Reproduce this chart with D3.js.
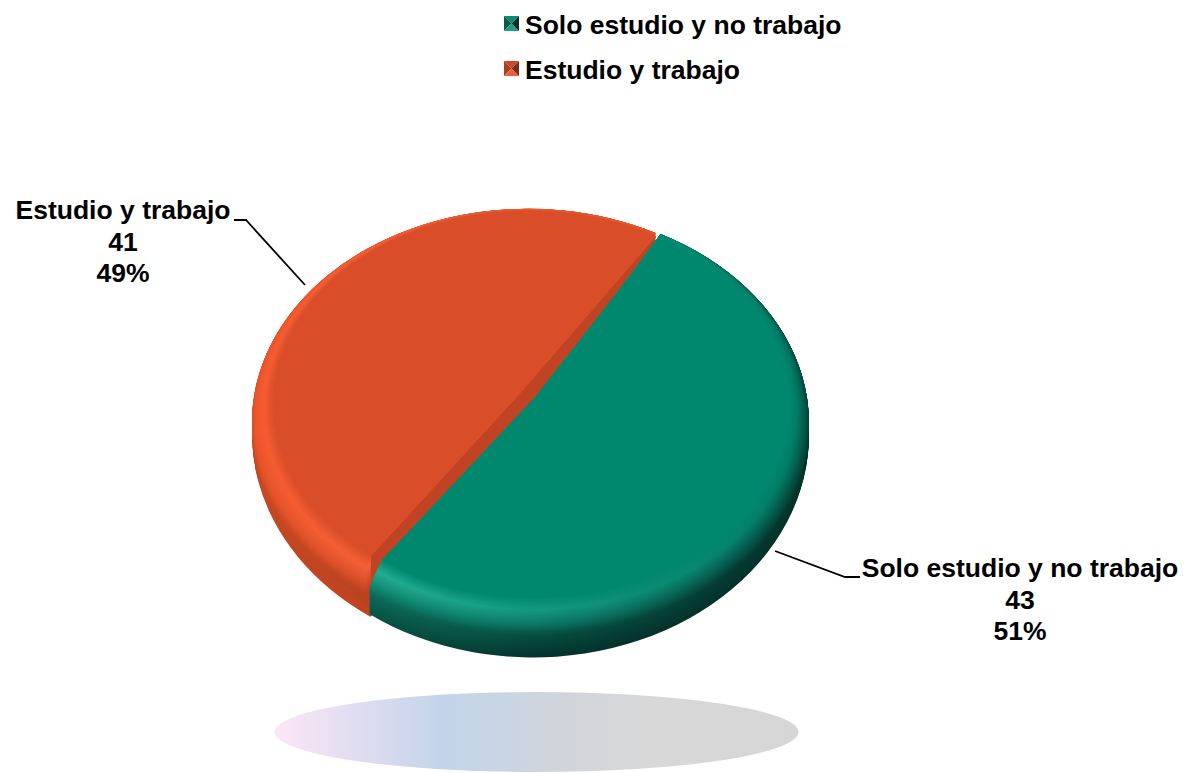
<!DOCTYPE html>
<html>
<head>
<meta charset="utf-8">
<title>Estudio y trabajo</title>
<script src="https://cdn.jsdelivr.net/npm/d3@7"></script>
<style>
  html, body { margin: 0; padding: 0; background: #fff; }
  svg { display: block; }
  text { font-family: "Liberation Sans", Arial, sans-serif; font-weight: bold; font-size: 26.5px; fill: #000; }
</style>
</head>
<body>
<div id="chart"></div>
<script>
// data
const categories = ["Solo estudio y no trabajo", "Estudio y trabajo"];
const counts = [43, 41];
const percentLabels = ["51%", "49%"];

const width = 1186, height = 773;
const deg = Math.PI / 180;

const svg = d3.select("#chart").append("svg")
  .attr("width", width)
  .attr("height", height);
const defs = svg.append("defs");

// per slice look: flat colour, rim colours (left, middle, right of the disc)
const looks = [
  {
    cx: 533, cy: 405, apex: [1, -9], flat: "#00886f", cutPad: 0,
    marker: ["#0e8a72", "#0a5d4e", "#1fa085", "#052f28"],
    rimX: [-176, 0, 276],
    rim: [
      ["#00886f", "#24b092", "#0e8a70", "#0b6a58", "#0a5548"],
      ["#00886f", "#14997e", "#0b7763", "#064b3f", "#04332c"],
      ["#00886f", "#007a63", "#034e42", "#03352d", "#03302a"]
    ]
  },
  {
    cx: 528, cy: 404, apex: [-8, -14], flat: "#d94e28", cutPad: 1.6 * deg,
    marker: ["#c9492a", "#a8401f", "#e85f3a", "#7a2c18"],
    rimX: [-276, -160, 276],
    rim: [
      ["#d94e28", "#f85a30", "#ea5529", "#cc4a25", "#c04824"],
      ["#d94e28", "#f26136", "#d94f2a", "#b8421f", "#c4421e"],
      ["#d94e28", "#e0502a", "#d94e28", "#c4461f", "#c04420"]
    ]
  }
];
const rimStops = [0, 0.18, 0.42, 0.68, 1];

// pie angles, then bent to the angles seen in the tilted disc
const pie = d3.pie().sort(null).value(d => d);
const arcs = pie(counts);
const screenAngle = d3.scaleLinear()
  .domain([0, arcs[0].endAngle, 2 * Math.PI])
  .range([30 * deg, 216.4 * deg, 390 * deg]);

// bevel profile: t=0 is the flat top, t=1 the bottom of the wall
const radiusAt = t => 255 + 21 * Math.sin(Math.min(t / 0.6, 1) * Math.PI / 2);
const dropAt = t => 30 * t;
const ratioAt = t => t < 0.6 ? 0.757 : 0.757 + (t - 0.6) / 0.4 * 0.049;

// the back corners stay put in x as the rim widens
const backAngle = (a, t) => {
  const turn = Math.floor(a / (2 * Math.PI)) * 2 * Math.PI;
  return turn + Math.asin(Math.sin(a) * radiusAt(0) / radiusAt(t));
};

function wedge(a0, a1, r, apex) {
  const p = d3.path();
  p.moveTo(apex[0], apex[1]);
  p.arc(0, 0, r, a0 - Math.PI / 2, a1 - Math.PI / 2);
  p.closePath();
  return p.toString();
}

// screen position of a point on the rim at bevel level t
function rimPoint(look, a, t) {
  return [
    look.cx + radiusAt(t) * Math.sin(a),
    look.cy + dropAt(t) - radiusAt(t) * ratioAt(t) * Math.cos(a)
  ];
}

const layerTs = d3.range(45, 0, -1).map(i => i / 45);

function drawSlice(i) {
  const look = looks[i];
  const a0 = screenAngle(arcs[i].startAngle) + look.cutPad;
  const a1 = screenAngle(arcs[i].endAngle);
  const g = svg.append("g").attr("class", "slice-" + i);
  const colourAt = look.rim.map(row => d3.scaleLinear().domain(rimStops).range(row));
  // orange front corner pulls back toward the cut as the rim widens
  const startAt = t => i === 0 ? backAngle(a0, t) : a0 - 2 * look.cutPad * t;
  const endAt = t => i === 1 ? backAngle(a1, t) : a1;

  g.selectAll("path.layer")
    .data(layerTs)
    .join("path")
    .attr("class", "layer")
    .attr("d", t => wedge(startAt(t), endAt(t), radiusAt(t), look.apex))
    .attr("transform", t => `translate(${look.cx},${look.cy + dropAt(t)}) scale(1,${ratioAt(t)})`)
    .attr("fill", (t, k) => {
      const id = `rim-${i}-${k}`;
      const grad = defs.append("linearGradient")
        .attr("id", id)
        .attr("gradientUnits", "userSpaceOnUse")
        .attr("x1", look.rimX[0]).attr("x2", look.rimX[2])
        .attr("y1", 0).attr("y2", 0);
      const span = look.rimX[2] - look.rimX[0];
      look.rimX.forEach((x, n) => {
        grad.append("stop")
          .attr("offset", (x - look.rimX[0]) / span)
          .attr("stop-color", colourAt[n](t));
      });
      return `url(#${id})`;
    });

  // orange slice shows its cut face next to the green one
  if (i === 1) {
    const top = rimPoint(look, a1, 0);
    const bottom = rimPoint(look, a0, 0);
    const corner = rimPoint(look, startAt(1), 1);
    const apex = [look.cx + look.apex[0], look.cy + look.apex[1] * ratioAt(0)];
    const wallDrop = 44;
    g.append("path")
      .attr("d", d3.line()([
        top, apex, bottom, corner,
        [apex[0], apex[1] + wallDrop], [top[0], top[1] + wallDrop]
      ]) + "Z")
      .attr("fill", "#c04424");
  }

  g.append("path")
    .attr("d", wedge(a0, a1, radiusAt(0), look.apex))
    .attr("transform", `translate(${look.cx},${look.cy}) scale(1,${ratioAt(0)})`)
    .attr("fill", look.flat);
}

// floor shadow under the disc
const floor = defs.append("linearGradient").attr("id", "floor");
[[0, "#fce6f6"], [0.32, "#c3d4ea"], [0.55, "#d0d5db"], [0.72, "#d8d8d8"], [1, "#d6d6d6"]]
  .forEach(s => floor.append("stop").attr("offset", s[0]).attr("stop-color", s[1]));
svg.append("ellipse")
  .attr("cx", 536.5).attr("cy", 732)
  .attr("rx", 262).attr("ry", 40)
  .attr("fill", "url(#floor)");

// orange first, the green slice sits in front of its cut face
drawSlice(1);
drawSlice(0);

// leader lines
const leaders = [
  [[775, 551], [845, 577], [860, 577]],
  [[305, 285], [246, 220], [234, 220]]
];
svg.selectAll("path.leader")
  .data(leaders)
  .join("path")
  .attr("class", "leader")
  .attr("d", d3.line())
  .attr("fill", "none")
  .attr("stroke", "#000")
  .attr("stroke-width", 1.8);

// data labels
const labelPos = [{ x: 1020, y: [577, 609, 640] }, { x: 123, y: [219, 251, 282] }];
categories.forEach((name, i) => {
  const lines = [name, String(counts[i]), percentLabels[i]];
  svg.append("g").selectAll("text")
    .data(lines)
    .join("text")
    .attr("x", labelPos[i].x)
    .attr("y", (d, k) => labelPos[i].y[k])
    .attr("text-anchor", "middle")
    .text(d => d);
});

// legend
const legendY = d3.scalePoint().domain(categories).range([16, 61]);
const legend = svg.selectAll("g.legend")
  .data(categories)
  .join("g")
  .attr("class", "legend")
  .attr("transform", d => `translate(504,${legendY(d)})`);

const s = 15, m = s / 2;
const facets = [
  [[0, 0], [s, 0], [m, m]],
  [[0, 0], [0, s], [m, m]],
  [[0, s], [s, s], [m, m]],
  [[s, 0], [s, s], [m, m]]
];
legend.each(function (d, i) {
  d3.select(this).selectAll("path")
    .data(facets)
    .join("path")
    .attr("d", f => d3.line()(f) + "Z")
    .attr("fill", (f, k) => looks[i].marker[k]);
});
legend.append("text")
  .attr("x", 21)
  .attr("y", 18)
  .text(d => d);
</script>
</body>
</html>
